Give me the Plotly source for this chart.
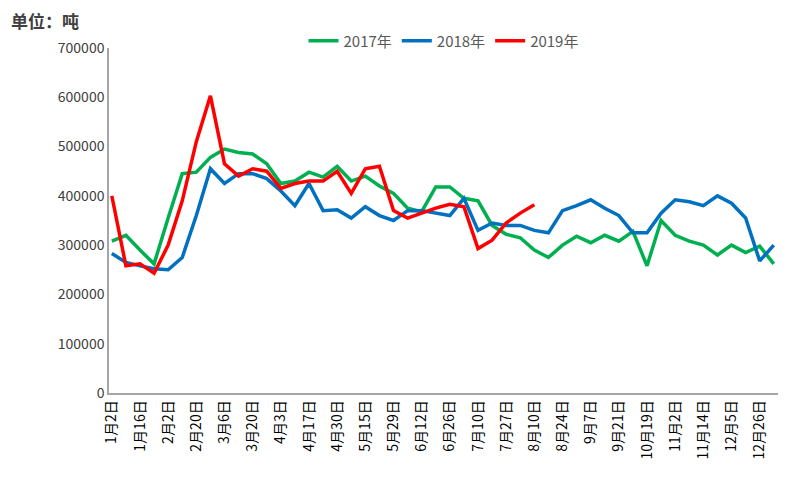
import plotly.graph_objects as go

tick_labels = ["1月2日", "1月16日", "2月2日", "2月20日", "3月6日", "3月20日", "4月3日", "4月17日",
               "4月30日", "5月15日", "5月29日", "6月12日", "6月26日", "7月10日", "7月27日", "8月10日",
               "8月24日", "9月7日", "9月21日", "10月19日", "11月2日", "11月14日", "12月5日", "12月26日"]

y2017 = [308000, 320000, 290000, 262000, 355000, 445000, 448000, 478000, 495000, 488000, 485000, 465000,
         425000, 430000, 448000, 438000, 460000, 430000, 440000, 420000, 405000, 375000, 368000, 418000,
         418000, 395000, 390000, 340000, 322000, 315000, 290000, 275000, 300000, 318000, 305000, 320000,
         308000, 328000, 258000, 350000, 320000, 308000, 300000, 280000, 300000, 285000, 298000, 262000]
y2018 = [283000, 265000, 258000, 252000, 250000, 275000, 360000, 455000, 425000, 445000, 445000, 435000,
         410000, 380000, 425000, 370000, 372000, 355000, 378000, 360000, 350000, 370000, 370000, 365000,
         360000, 395000, 330000, 345000, 340000, 340000, 330000, 325000, 370000, 380000, 392000, 375000,
         360000, 325000, 325000, 365000, 392000, 388000, 380000, 400000, 385000, 355000, 268000, 300000]
y2019 = [400000, 258000, 262000, 243000, 300000, 390000, 510000, 603000, 465000, 440000, 455000, 450000,
         415000, 425000, 430000, 430000, 450000, 405000, 455000, 460000, 370000, 355000, 365000, 375000,
         383000, 378000, 293000, 310000, 345000, 365000, 382000]

x = list(range(len(y2018)))
fig = go.Figure()
for name, ys, color in [("2017年", y2017, "#00B050"), ("2018年", y2018, "#0070C0"), ("2019年", y2019, "#FF0000")]:
    fig.add_trace(go.Scatter(x=x[:len(ys)], y=ys, name=name, mode="lines",
                             line=dict(color=color, width=3.5)))

fig.update_layout(
    width=800, height=500, plot_bgcolor="white", paper_bgcolor="white",
    margin=dict(l=101, r=30, t=40, b=115, autoexpand=False),
    font=dict(family="Noto Sans CJK SC, Arial", size=14, color="#404040"),
    legend=dict(orientation="h", x=0.5, xanchor="center", y=1.02, yanchor="middle",
                font=dict(size=15, color="#595959")),
    annotations=[dict(text="<b>单位：吨</b>", xref="paper", yref="paper", x=-0.15, y=1.08,
                      xanchor="left", yanchor="middle", showarrow=False,
                      font=dict(size=17, color="#404040"))],
)
fig.update_xaxes(tickvals=x[::2], ticktext=tick_labels, tickangle=-90, range=[-0.2, 47.3],
                 showline=True, linecolor="#A6A6A6", linewidth=1.5, showgrid=False, automargin=False,
                 tickfont=dict(size=14, color="#000000"))
fig.update_yaxes(range=[0, 700000], dtick=100000, showline=True, linecolor="#A6A6A6", linewidth=1.5,
                 showgrid=False, tickformat="d", ticks="", automargin=False,
                 tickfont=dict(size=14, color="#404040"))

fig.write_html("out.html")
